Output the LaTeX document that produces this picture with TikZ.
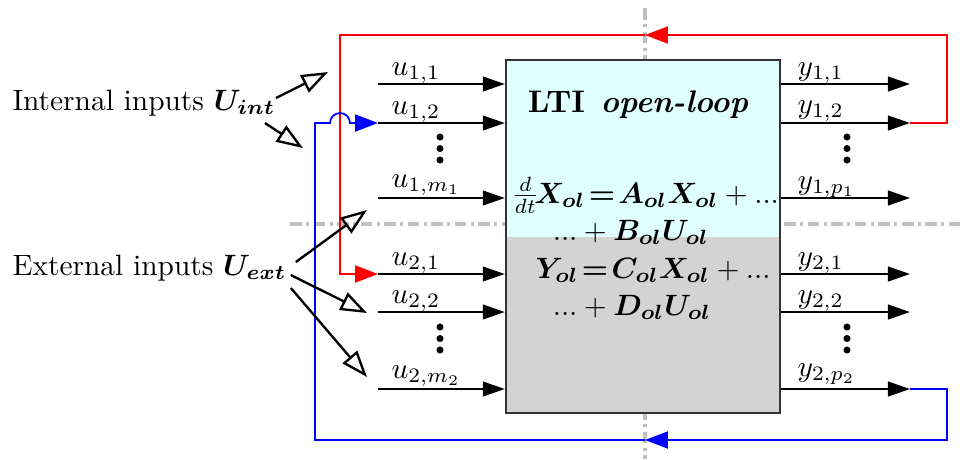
\documentclass[tikz,border=0pt]{standalone}
\usepackage{amsmath,amssymb}
\usepackage{tikz}
\usetikzlibrary{arrows.meta,positioning,calc,backgrounds}
\definecolor{topcolor}{RGB}{224,255,255}
\definecolor{botcolor}{RGB}{211,211,211}
\definecolor{axiscolor}{RGB}{192,192,192}
\definecolor{framecolor}{RGB}{51,51,51}

\begin{document}
\begin{tikzpicture}[
    x=0.34pt, y=-0.34pt,
    every node/.style={font=\normalsize},
    system/.style={rectangle, draw=framecolor, line width=0.8pt, minimum width=93.16pt, minimum height=120pt, inner sep=0pt},
    txt/.style={anchor=base west, inner sep=1pt},
    title/.style={anchor=base, inner sep=0pt, font=\fontsize{10.6pt}{13pt}\selectfont},
    eqn/.style={anchor=base, inner sep=0pt},
    ilab/.style={anchor=base west, inner sep=0pt},
    sig/.style={-{Triangle[length=7.5pt, width=5pt]}, line width=0.7pt},
    fbk/.style={-{Triangle[length=7.8pt, width=5.8pt]}, line width=0.6pt},
    hollow/.style={-{Triangle[open, length=9pt, width=6.5pt]}, line width=0.8pt},
    axis/.style={axiscolor, line width=1.4pt, dash pattern=on 4pt off 1.5pt on 1pt off 1.5pt}
]
    \useasboundingbox (0,0) rectangle (960,459);

    % Nodes
    \node[system] (sys) at (643,236.5) {};
    \node[title] (ttl) at (638,112) {\textbf{LTI}\hspace{0.5em}\textbf{\textit{open-loop}}};
    \node[eqn] (eq1) at (645,203) {$\frac{d}{dt}\!\boldsymbol{X_{ol}}\!\boldsymbol{=}\!\boldsymbol{A_{ol}X_{ol}}+...$};
    \node[eqn] (eq2) at (631,240) {$...+\boldsymbol{B_{ol}U_{ol}}$};
    \node[eqn] (eq3) at (653,278) {$\boldsymbol{Y_{ol}}\!\boldsymbol{=}\!\boldsymbol{C_{ol}X_{ol}}+...$};
    \node[eqn] (eq4) at (632,315) {$...+\boldsymbol{D_{ol}U_{ol}}$};

    \node[txt] (int) at (9,110) {Internal inputs $\boldsymbol{U_{int}}$};
    \node[txt] (ext) at (9,275) {External inputs $\boldsymbol{U_{ext}}$};

    \coordinate (u11) at (378,84);
    \coordinate (u12) at (378,123);
    \coordinate (u1m) at (378,198);
    \coordinate (u21) at (378,274);
    \coordinate (u22) at (378,312);
    \coordinate (u2m) at (378,389);
    \coordinate (y11) at (910,84);
    \coordinate (y12) at (910,123);
    \coordinate (y1p) at (910,198);
    \coordinate (y21) at (910,274);
    \coordinate (y22) at (910,312);
    \coordinate (y2p) at (910,389);

    \node[ilab] (lu11) at (391,75) {$u_{1,1}$};
    \node[ilab] (lu12) at (391,114) {$u_{1,2}$};
    \node[ilab] (lu1m) at (391,187) {$u_{1,m_1}$};
    \node[ilab] (lu21) at (391,265) {$u_{2,1}$};
    \node[ilab] (lu22) at (391,303) {$u_{2,2}$};
    \node[ilab] (lu2m) at (391,378) {$u_{2,m_2}$};
    \node[ilab] (ly11) at (797,75) {$y_{1,1}$};
    \node[ilab] (ly12) at (797,113) {$y_{1,2}$};
    \node[ilab] (ly1p) at (797,189) {$y_{1,p_1}$};
    \node[ilab] (ly21) at (797,265) {$y_{2,1}$};
    \node[ilab] (ly22) at (797,303) {$y_{2,2}$};
    \node[ilab] (ly2p) at (797,376) {$y_{2,p_2}$};

    \coordinate (ti1) at (328,72);
    \coordinate (ti2) at (303,148);
    \coordinate (te1) at (367,210);
    \coordinate (te2) at (367,313);
    \coordinate (te3) at (367,377);

    \coordinate (rne) at (947,35);
    \coordinate (rmid) at (645,35);
    \coordinate (rnw) at (340,35);
    \coordinate (bse) at (947,440);
    \coordinate (bmid) at (645,440);
    \coordinate (bsw) at (315,440);
    \coordinate (hop) at (330,123);

    % Background
    \begin{scope}[on background layer]
        \draw[axis] (290,224) -- (960,224);
        \draw[axis] (645,8) -- (645,459);
        \fill[topcolor] (sys.north west) rectangle (sys.east);
        \fill[botcolor] (sys.west) rectangle (sys.south east);
    \end{scope}

    % Dots
    \fill (440,137) circle (1.2pt) (440,148.5) circle (1.2pt) (440,160) circle (1.2pt);
    \fill (440,327) circle (1.2pt) (440,338.5) circle (1.2pt) (440,350) circle (1.2pt);
    \fill (847,137) circle (1.2pt) (847,148.5) circle (1.2pt) (847,160) circle (1.2pt);
    \fill (847,327) circle (1.2pt) (847,338.5) circle (1.2pt) (847,350) circle (1.2pt);

    % Edges
    \draw[sig] (u11) -- (u11 -| sys.west);
    \draw[sig] (u12) -- (u12 -| sys.west);
    \draw[sig] (u1m) -- (u1m -| sys.west);
    \draw[sig] (u21) -- (u21 -| sys.west);
    \draw[sig] (u22) -- (u22 -| sys.west);
    \draw[sig] (u2m) -- (u2m -| sys.west);
    \draw[sig] (y11 -| sys.east) -- (y11);
    \draw[sig] (y12 -| sys.east) -- (y12);
    \draw[sig] (y1p -| sys.east) -- (y1p);
    \draw[sig] (y21 -| sys.east) -- (y21);
    \draw[sig] (y22 -| sys.east) -- (y22);
    \draw[sig] (y2p -| sys.east) -- (y2p);

    \draw[fbk, red] (y12) -| (rne) -- (rmid);
    \draw[fbk, red] (rmid) -- (rnw) |- (u21);
    \draw[fbk, blue] (y2p) -| (bse) -- (bmid);
    \draw[fbk, blue] (bmid) -- (bsw) |- (hop) arc[start angle=180, end angle=0, radius=3.4pt] -- (u12);

    \draw[hollow] ([shift={(-3,-12)}]int.base east) -- (ti1);
    \draw[hollow] ([shift={(-14,13)}]int.base east) -- (ti2);
    \draw[hollow] ([shift={(6,-13)}]ext.base east) -- (te1);
    \draw[hollow] ([shift={(1,0)}]ext.base east) -- (te2);
    \draw[hollow] ([shift={(1,13)}]ext.base east) -- (te3);
\end{tikzpicture}
\end{document}
